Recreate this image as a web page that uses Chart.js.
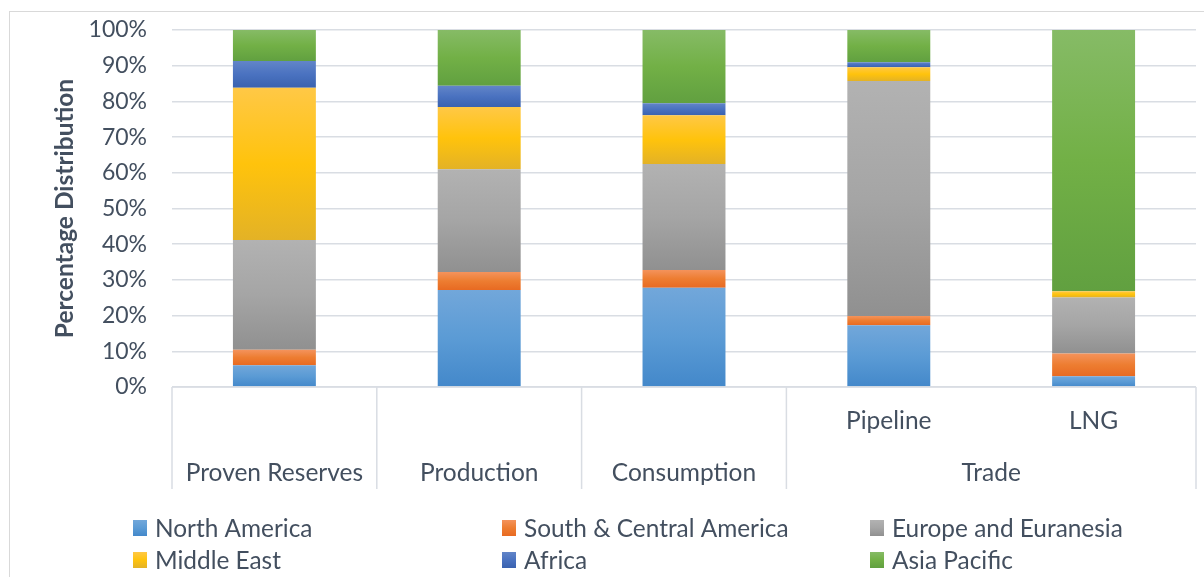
<!DOCTYPE html>
<html>
<head>
<meta charset="utf-8">
<script src="https://cdn.jsdelivr.net/npm/chart.js@4/dist/chart.umd.min.js"></script>
<style>
  html, body { margin: 0; padding: 0; background: #ffffff; }
  #wrap { position: relative; width: 1204px; height: 577px; }
</style>
</head>
<body>
<div id="wrap"><canvas id="chart" width="1204" height="577"></canvas></div>
<script>
// Natural gas: regional share (%) of reserves, production, consumption and trade
const categories = ['Proven Reserves', 'Production', 'Consumption', 'Pipeline', 'LNG'];
const subLabels = ['', '', '', 'Pipeline', 'LNG'];
const groupLabels = ['Proven Reserves', 'Production', 'Consumption', 'Trade'];
const groupSpans = [1, 1, 1, 2];

const regions = ['North America', 'South & Central America', 'Europe and Euranesia',
                 'Middle East', 'Africa', 'Asia Pacific'];
const northAmerica        = [6.1, 27.2, 27.8, 17.3, 3.0];
const southCentralAmerica = [4.3, 5.0, 5.0, 2.6, 6.4];
const europeEuranesia     = [30.8, 28.8, 29.7, 65.8, 15.7];
const middleEast          = [42.6, 17.4, 13.6, 3.9, 1.7];
const africa              = [7.5, 6.0, 3.4, 1.4, 0.0];
const asiaPacific         = [8.7, 15.6, 20.5, 9.0, 73.2];
const yTickValues = [0, 10, 20, 30, 40, 50, 60, 70, 80, 90, 100];

const series = [northAmerica, southCentralAmerica, europeEuranesia, middleEast, africa, asiaPacific];

// light top -> base -> darker bottom, per region
const shades = [
  ['#72a7da', '#5b9bd5', '#4388ca'],
  ['#f4935c', '#ed7d31', '#e86a22'],
  ['#b2b2b2', '#a5a5a5', '#909090'],
  ['#ffc846', '#ffc30c', '#e3b226'],
  ['#6285c8', '#4a72c0', '#3a62af'],
  ['#86bb66', '#72b046', '#61a040']
];

const TEXT = '#434f5f';
const LINE = '#d9dde3';
const FONT = 'Lato, "Open Sans", sans-serif';

function gradientFor(ctx2d, idx, yTop, yBot) {
  const g = ctx2d.createLinearGradient(0, yTop, 0, yBot);
  g.addColorStop(0, shades[idx][0]);
  g.addColorStop(0.5, shades[idx][1]);
  g.addColorStop(1, shades[idx][2]);
  return g;
}

function segmentFill(c) {
  const chart = c.chart;
  const yScale = chart.scales.y;
  const d = c.datasetIndex;
  if (!yScale || c.type !== 'data') return shades[d][1];
  const i = c.dataIndex;
  let lo = 0;
  for (let k = 0; k < d; k++) lo += series[k][i];
  const hi = lo + series[d][i];
  const yTop = yScale.getPixelForValue(hi);
  const yBot = yScale.getPixelForValue(lo);
  if (!(yBot > yTop)) return shades[d][1];
  return gradientFor(chart.ctx, d, yTop, yBot);
}

// two-level category labels and their boxes under the plot
const categoryAxisPlugin = {
  id: 'categoryAxis',
  afterDraw(chart) {
    const { ctx, chartArea, scales } = chart;
    const x = scales.x;
    const n = categories.length;
    const cw = (chartArea.right - chartArea.left) / n;
    const boxBottom = chartArea.bottom + 102;
    ctx.save();
    ctx.strokeStyle = LINE;
    ctx.lineWidth = 1.5;
    ctx.beginPath();
    ctx.moveTo(chartArea.left, chartArea.bottom);
    ctx.lineTo(chartArea.right, chartArea.bottom);
    // group boundaries
    let pos = 0;
    const edges = [0];
    groupSpans.forEach(s => { pos += s; edges.push(pos); });
    edges.forEach(e => {
      const px = chartArea.left + e * cw;
      ctx.moveTo(px, chartArea.bottom);
      ctx.lineTo(px, boxBottom);
    });
    ctx.stroke();

    ctx.fillStyle = TEXT;
    ctx.textAlign = 'center';
    ctx.textBaseline = 'middle';
    ctx.font = '24.5px ' + FONT;
    subLabels.forEach((s, i) => {
      if (s) ctx.fillText(s, x.getPixelForValue(i), chartArea.bottom + 34);
    });
    let start = 0;
    groupLabels.forEach((g, j) => {
      const span = groupSpans[j];
      const cx = chartArea.left + (start + span / 2) * cw;
      ctx.fillText(g, cx, chartArea.bottom + 86);
      start += span;
    });
    ctx.restore();
  }
};

// legend in three fixed columns below the axis
const gridLegendPlugin = {
  id: 'gridLegend',
  afterDraw(chart) {
    const { ctx } = chart;
    const colX = [133, 502, 870];
    const rowY = [528, 560];
    ctx.save();
    ctx.font = '24.4px ' + FONT;
    ctx.textAlign = 'left';
    ctx.textBaseline = 'middle';
    chart.data.datasets.forEach((ds, i) => {
      const cx = colX[i % 3];
      const cy = rowY[Math.floor(i / 3)];
      ctx.fillStyle = gradientFor(ctx, i, cy - 8, cy + 8);
      ctx.fillRect(cx, cy - 8, 14, 16);
      ctx.fillStyle = TEXT;
      ctx.fillText(ds.label, cx + 22, cy + 1);
    });
    ctx.restore();
  }
};

const frameBorderPlugin = {
  id: 'frameBorder',
  beforeDraw(chart) {
    const { ctx } = chart;
    ctx.save();
    ctx.fillStyle = '#ffffff';
    ctx.fillRect(0, 0, chart.width, chart.height);
    ctx.strokeStyle = '#d9d9d9';
    ctx.lineWidth = 1;
    ctx.strokeRect(9.5, 11.5, chart.width + 20, chart.height + 20);
    ctx.restore();
  }
};

new Chart(document.getElementById('chart'), {
  type: 'bar',
  data: {
    labels: categories,
    datasets: series.map((vals, i) => ({
      label: regions[i],
      data: vals,
      backgroundColor: segmentFill,
      borderWidth: 0,
      barPercentage: 0.405,
      categoryPercentage: 1.0
    }))
  },
  options: {
    responsive: false,
    animation: false,
    layout: { padding: { left: 0, right: 8, top: 30, bottom: 88 } },
    plugins: {
      legend: { display: false },
      tooltip: { enabled: false }
    },
    scales: {
      x: {
        stacked: true,
        offset: true,
        grid: { display: false },
        border: { display: false },
        ticks: { display: false },
        afterFit(scale) { scale.height = 102; }
      },
      y: {
        stacked: true,
        min: 0,
        max: 100,
        afterBuildTicks(scale) { scale.ticks = yTickValues.map(v => ({ value: v })); },
        grid: { color: LINE, lineWidth: 1.5, drawTicks: false },
        border: { display: false },
        ticks: {
          padding: 25,
          color: TEXT,
          font: { family: FONT, size: 23 },
          callback: v => v + '%'
        },
        title: {
          display: true,
          text: 'Percentage Distribution',
          color: TEXT,
          font: { family: FONT, size: 24.5, weight: 'bold' },
          padding: { top: 50, bottom: 0 }
        },
        afterFit(scale) {
          scale.width = 172;
          scale.paddingTop = 0;
          scale.paddingBottom = 0;
        }
      }
    }
  },
  plugins: [frameBorderPlugin, categoryAxisPlugin, gridLegendPlugin]
});
</script>
</body>
</html>
